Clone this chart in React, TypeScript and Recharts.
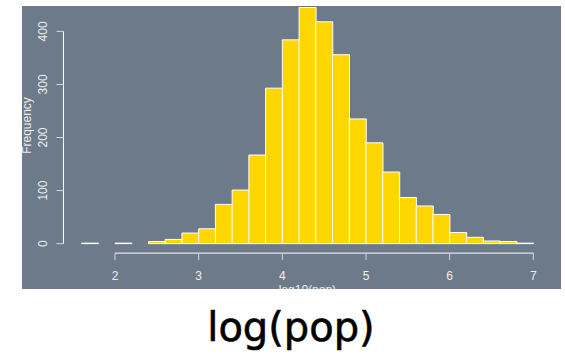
import React from 'react';
import { BarChart, Bar, XAxis, YAxis, ReferenceLine, Label } from 'recharts';

const binStarts = [1.6, 1.8, 2.0, 2.2, 2.4, 2.6, 2.8, 3.0, 3.2, 3.4, 3.6, 3.8, 4.0, 4.2, 4.4, 4.6, 4.8, 5.0, 5.2, 5.4, 5.6, 5.8, 6.0, 6.2, 6.4, 6.6, 6.8];
const binWidth = 0.2;
const counts = [1, 0, 1, 0, 4, 8, 20, 28, 74, 101, 167, 293, 384, 445, 418, 356, 235, 190, 135, 87, 71, 55, 21, 12, 5, 4, 1];
const xTicks = [2, 3, 4, 5, 6, 7];
const yTicks = [0, 100, 200, 300, 400];
const xLabel = 'log10(pop)';
const yLabel = 'Frequency';
const title = 'log(pop)';

const data = binStarts.map((s, i) => ({ bin: s.toFixed(1), mid: s + binWidth / 2, count: counts[i] }));

const BG = '#6C7A8A';
const TXT = '#EEEEEE';
const FONT = '"Liberation Sans", Arial, Helvetica, sans-serif';

const xDomain: [number, number] = [1.384, 7.216];
const yDomain: [number, number] = [-17.8, 447.8];

const YTick = (props: any) => {
  const { y, payload } = props;
  return (
    <text x={24.6} y={y} transform={`rotate(-90, 24.6, ${y})`} textAnchor="middle" fill={TXT} fontSize={12} fontFamily={FONT}>
      {payload.value}
    </text>
  );
};

const XTick = (props: any) => {
  const { x, payload } = props;
  return (
    <text x={x} y={274.3} textAnchor="middle" fill={TXT} fontSize={12} fontFamily={FONT}>
      {payload.value}
    </text>
  );
};

export default function App() {
  return (
    <div style={{ position: 'absolute', left: 0, top: 0, width: 565, height: 358, background: '#ffffff' }}>
      <div style={{ position: 'absolute', left: 22, top: 6, width: 539, height: 283, overflow: 'hidden', background: BG }}>
        <BarChart width={539} height={283} data={data} margin={{ top: 0, right: 9.6, bottom: 0, left: 0 }} barCategoryGap={0}>
          <XAxis
            xAxisId="num"
            dataKey="mid"
            type="number"
            domain={xDomain}
            allowDataOverflow
            ticks={xTicks}
            height={35.9}
            axisLine={false}
            tickLine={{ stroke: '#D8D8D8' }}
            tickSize={7}
            tick={<XTick />}
          >
            <Label
              content={() => (
                <text x={285.4} y={287.8} textAnchor="middle" fill={TXT} fontSize={12} fontFamily={FONT}>
                  {xLabel}
                </text>
              )}
            />
          </XAxis>
          <XAxis xAxisId="cat" dataKey="bin" type="category" hide height={0} padding={{ left: 18.07, right: 18.07 }} />
          <YAxis
            type="number"
            domain={yDomain}
            allowDataOverflow
            ticks={yTicks}
            width={41.46}
            axisLine={false}
            tickLine={{ stroke: '#D8D8D8' }}
            tickSize={7}
            tick={<YTick />}
          >
            <Label
              content={() => (
                <text x={9.3} y={119.5} transform="rotate(-90, 9.3, 119.5)" textAnchor="middle" fill={TXT} fontSize={12} fontFamily={FONT}>
                  {yLabel}
                </text>
              )}
            />
          </YAxis>
          <ReferenceLine
            xAxisId="num"
            segment={[{ x: xTicks[0], y: yDomain[0] }, { x: xTicks[xTicks.length - 1], y: yDomain[0] }]}
            stroke="#FFFFFF"
            strokeWidth={1}
            ifOverflow="visible"
          />
          <ReferenceLine
            xAxisId="num"
            segment={[{ x: xDomain[0], y: yTicks[0] }, { x: xDomain[0], y: yTicks[yTicks.length - 1] }]}
            stroke="#FFFFFF"
            strokeWidth={1}
            ifOverflow="visible"
          />
          <Bar xAxisId="cat" dataKey="count" fill="#FFD700" stroke="#FFFFFF" strokeWidth={1} isAnimationActive={false} />
        </BarChart>
      </div>
      <svg width={565} height={358} style={{ position: 'absolute', left: 0, top: 0, pointerEvents: 'none' }}>
        <text x={291} y={341} textAnchor="middle" fill="#000000" stroke="#000000" strokeWidth={0.6} fontSize={40} fontFamily={'"DejaVu Sans", sans-serif'}>
          {title}
        </text>
      </svg>
    </div>
  );
}
